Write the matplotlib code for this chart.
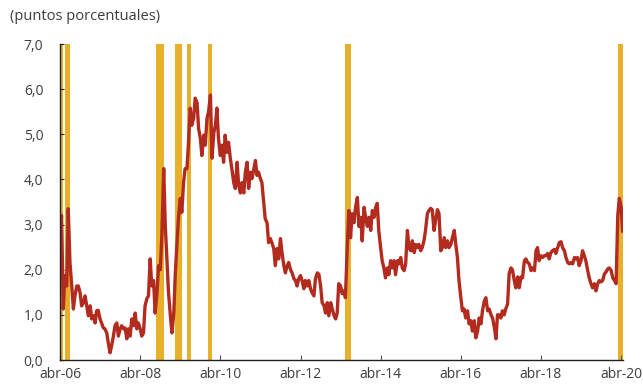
import matplotlib
matplotlib.use("Agg")
import matplotlib.pyplot as plt
import pandas as pd
from matplotlib.ticker import FixedLocator, FuncFormatter

plt.rcParams['font.family'] = ['Open Sans', 'DejaVu Sans']

# Spread (percentage points), semi-monthly observations from April 2006
spread = [
    2.6, 3.2, 1.13, 1.87, 1.64, 3.35, 2.15, 1.71, 1.13, 1.42,
    1.64, 1.64, 1.49, 1.2, 1.27, 1.42, 1.2, 0.98, 1.2, 0.91,
    0.98, 0.82, 1.09, 1.1, 0.91, 0.82, 0.71, 0.69, 0.6, 0.38,
    0.16, 0.31, 0.53, 0.76, 0.82, 0.53, 0.69, 0.76, 0.69, 0.71,
    0.47, 0.69, 0.53, 0.91, 0.76, 1.04, 0.69, 0.82, 0.69, 0.53,
    0.6, 1.2, 1.36, 1.42, 2.24,
    1.64, 1.76, 1.04, 1.49, 2.09, 2.0, 2.76, 4.24, 3.0, 2.2,
    1.49, 0.98, 0.6, 1.04, 1.93, 2.53, 3.13, 3.58, 3.27, 3.93,
    4.24, 4.24, 4.82, 5.58, 5.2, 5.36, 5.8, 5.7, 5.13, 4.91,
    4.53, 4.98, 4.76, 5.36, 5.5, 5.87, 4.47, 5.04, 5.2, 5.58,
    4.91, 4.53, 4.76, 4.38, 4.98, 4.6, 4.82, 4.47, 4.24, 3.93,
    3.8, 4.38, 3.87, 3.7, 3.93, 3.7,
    4.16, 4.38, 3.8, 4.16, 4.02, 4.24, 4.42, 4.09, 4.16, 4.02,
    3.93, 3.49, 3.13, 3.04, 2.6, 2.69, 2.6, 2.47, 2.09, 2.47,
    2.24, 2.69, 2.38, 2.09, 1.93, 2.09, 2.16, 2.0, 1.93, 1.8,
    1.76, 1.64, 1.8, 1.87, 1.76, 1.58, 1.76, 1.64, 1.76, 1.58,
    1.49, 1.42, 1.8, 1.93, 1.9, 1.64, 1.27, 1.2, 1.04, 1.27,
    0.98, 1.27, 1.13, 0.98, 0.91, 1.04,
    1.69, 1.64, 1.47, 1.53, 1.38, 2.5, 3.31, 2.71, 3.24, 3.04,
    3.38, 3.6, 2.96, 3.16, 2.64, 3.38, 3.16, 2.96, 3.16, 2.87,
    3.31, 3.16, 3.38, 3.47, 2.87, 2.49, 2.2, 2.04, 1.82, 2.04,
    1.89, 2.2, 2.04, 2.2, 1.89, 2.2, 2.13, 2.27, 2.04, 1.98,
    2.13, 2.87, 2.49, 2.42, 2.64, 2.38, 2.56, 2.49, 2.56, 2.42,
    2.49, 2.64, 2.87, 3.24, 3.31,
    3.36, 3.33, 2.87, 3.1, 3.33, 3.24, 2.42, 2.49, 2.71, 2.49,
    2.64, 2.49, 2.56, 2.71, 2.87, 2.56, 2.27, 1.76, 1.38, 1.09,
    1.13, 0.93, 1.09, 0.8, 0.87, 0.64, 0.87, 0.49, 0.64, 0.93,
    0.8, 1.09, 1.31, 1.38, 1.09, 1.13, 1.0, 0.93, 0.71, 0.47,
    1.0, 1.0, 0.93, 1.09, 1.0, 1.13, 1.24, 1.91, 2.04, 2.0,
    1.76, 1.6, 1.84, 1.6, 1.84, 1.82,
    2.2, 2.24, 2.16, 2.13, 1.98, 2.04, 1.98, 2.42, 2.49, 2.2,
    2.31, 2.27, 2.31, 2.31, 2.36, 2.24, 2.38, 2.42, 2.45, 2.36,
    2.49, 2.6, 2.62, 2.49, 2.42, 2.27, 2.16, 2.13, 2.16, 2.13,
    2.27, 2.24, 2.27, 2.09, 2.2, 2.42, 2.31, 2.2, 1.98, 1.82,
    1.69, 1.6, 1.69, 1.53, 1.69, 1.76, 1.73, 1.76, 1.91, 1.95,
    2.02, 2.04, 1.98, 1.82, 1.76, 1.69, 3.2, 3.58, 3.38, 2.82,
]
dates = pd.date_range('2006-04-01', periods=len(spread), freq='SMS')

# Shaded stress episodes
episode_start = ['2006-04-01', '2006-05-20', '2008-08-20', '2009-02-10',
                 '2009-05-28', '2009-12-08', '2013-05-10', '2020-02-28']
episode_end = ['2006-04-28', '2006-07-05', '2008-11-01', '2009-04-15',
               '2009-07-05', '2010-01-15', '2013-07-05', '2020-04-15']

tick_years = [2006, 2008, 2010, 2012, 2014, 2016, 2018, 2020]
y_ticks = [0, 1, 2, 3, 4, 5, 6, 7]

line_color = '#B22B1E'
band_color = '#E8B02A'
text_color = '#3d3d3d'

fig = plt.figure(figsize=(6.43, 3.84), dpi=100)
ax = fig.add_axes([60 / 643, 1 - 360 / 384, (622.7 - 60) / 643, (360 - 44) / 384])

for s, e in zip(episode_start, episode_end):
    ax.axvspan(pd.Timestamp(s), pd.Timestamp(e), color=band_color, lw=0, zorder=1)

ax.plot(dates, spread, color=line_color, lw=2.4, zorder=2,
        solid_joinstyle='round', solid_capstyle='butt')

ax.set_xlim(dates[0], dates[-1])
ax.set_ylim(0, 7)

ax.yaxis.set_major_locator(FixedLocator(y_ticks))
ax.yaxis.set_major_formatter(FuncFormatter(lambda v, p: f"{v:.1f}".replace('.', ',')))
ax.set_xticks([pd.Timestamp(f'{y}-04-01') for y in tick_years])
ax.set_xticklabels([f'abr-{y % 100:02d}' for y in tick_years])

for side in ('top', 'right'):
    ax.spines[side].set_visible(False)
for side in ('left', 'bottom'):
    ax.spines[side].set_color('#222222')
    ax.spines[side].set_linewidth(1.0)
    ax.spines[side].set_zorder(3)

ax.tick_params(axis='y', direction='in', length=3, width=0.8, color='#222222',
               labelsize=10, labelcolor=text_color, pad=12)
ax.tick_params(axis='x', direction='in', length=3.5, width=0.8, color='#555555',
               labelsize=10, labelcolor=text_color, pad=5)

fig.text(10 / 643, 1 - 17 / 384, '(puntos porcentuales)', ha='left', va='center',
         fontsize=10.5, color=text_color)

fig.savefig('out.png', dpi=100)
